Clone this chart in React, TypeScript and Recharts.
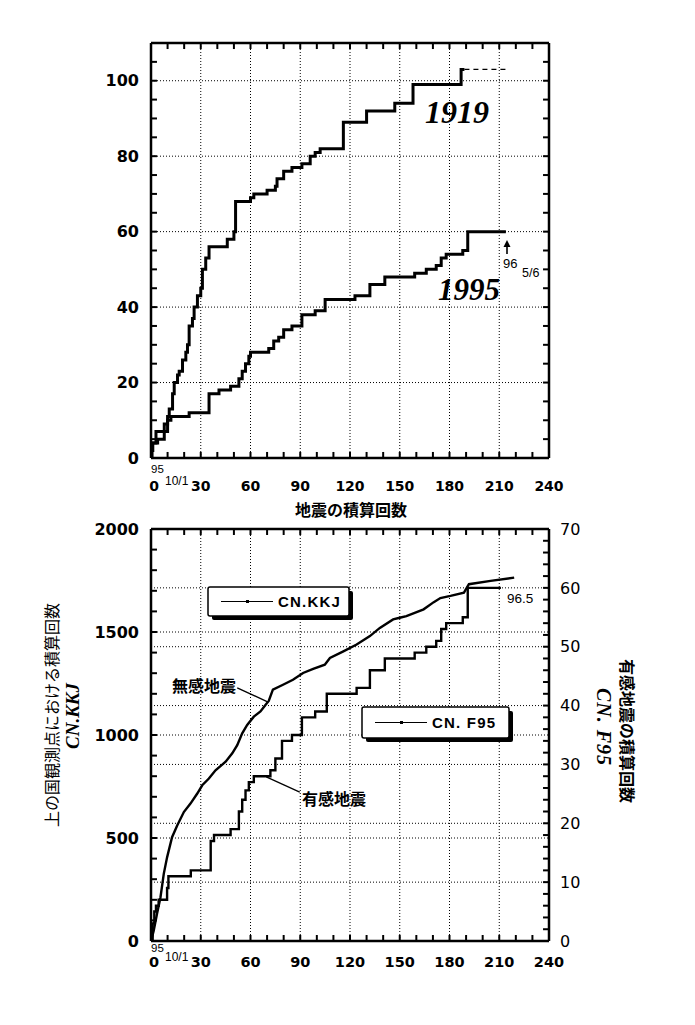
import React from 'react'
import { LineChart, Line, XAxis, YAxis, CartesianGrid, ReferenceLine } from 'recharts'

// axis ticks
const xTicks = [0, 30, 60, 90, 120, 150, 180, 210, 240]
const topYTicks = [0, 20, 40, 60, 80, 100]
const leftTicks = [0, 500, 1000, 1500, 2000]
const rightTicks = [0, 10, 20, 30, 40, 50, 60, 70]

// top chart: 1919 sequence (step)
const x1919 = [0, 0.5, 1, 3, 8, 10, 11, 13, 14, 16, 17, 19, 21, 22, 23, 25, 26, 28, 30, 31, 33, 35, 46, 50, 51, 60, 62, 70, 75, 76, 80, 85, 91, 96, 99, 102, 116, 130, 147, 158, 187, 189]
const y1919 = [0, 2, 4, 7, 9, 11, 13, 17, 20, 22, 23, 26, 28, 30, 35, 37, 40, 43, 45, 50, 53, 56, 58, 60, 68, 69, 70, 71, 72, 74, 76, 77, 78, 80, 81, 82, 89, 92, 94, 99, 103, 103]
const x1919Dashed = [189, 215]
const y1919Dashed = [103, 103]

// top chart: 1995 sequence (step)
const x1995 = [0, 0.5, 1, 4, 8, 10, 12, 23, 35, 41, 48, 53, 55, 57, 59, 60, 71, 74, 77, 80, 85, 91, 99, 105, 123, 132, 141, 159, 166, 172, 175, 178, 188, 191, 214]
const y1995 = [0, 2, 4, 5, 7, 10, 11, 12, 17, 18, 19, 21, 23, 25, 27, 28, 29, 31, 32, 34, 35, 38, 39, 42, 43, 46, 48, 49, 50, 51, 53, 54, 55, 60, 60]

// bottom chart: CN.KKJ (left axis)
const xKKJ = [0, 1.6, 3.6, 5.7, 7.7, 9.7, 12.7, 15.8, 19.8, 23.8, 27.9, 30.9, 34.9, 38.9, 45, 49, 52, 55, 58, 62, 66, 69, 71, 73.5, 79.6, 85.6, 91.7, 97.8, 104.8, 107.9, 116, 124, 132, 138, 146, 150, 154, 159, 164.4, 170.5, 174.5, 180.6, 188.7, 191.7, 204.8, 219]
const yKKJ = [0, 49, 131, 211, 326, 406, 504, 561, 626, 667, 716, 756, 789, 829, 870, 911, 951, 1008, 1049, 1089, 1114, 1146, 1165, 1220, 1244, 1268, 1301, 1321, 1341, 1374, 1406, 1439, 1480, 1520, 1561, 1569, 1577, 1593, 1610, 1645, 1665, 1675, 1691, 1732, 1748, 1764]

// bottom chart: CN.F95 (right axis, step)
const xF95 = [0, 1, 2, 3, 4.6, 9.7, 10.5, 24, 36, 38, 41, 48, 53, 55, 57, 59, 62, 72, 75, 79, 85, 91, 99, 106, 124, 132, 141, 159, 166, 172, 175, 178, 188, 191, 211]
const yF95 = [0, 3, 5, 6, 7, 9, 11, 12, 17, 18, 18, 19, 22, 24, 25.6, 27, 28, 29, 31, 34, 35, 38, 39, 42, 43, 46, 48, 49, 50, 51, 53, 54, 55, 60, 60]

const toPoints = (xs: number[], ys: number[]) => xs.map((x, i) => ({ x, y: ys[i] }))

const d1919 = toPoints(x1919, y1919)
const d1919Dashed = toPoints(x1919Dashed, y1919Dashed)
const d1995 = toPoints(x1995, y1995)
const dKKJ = toPoints(xKKJ, yKKJ)
const dF95 = toPoints(xF95, yF95)

// inner (minor) tick positions
const minorX = Array.from({ length: 23 }, (_, i) => (i + 1) * 10)
const minorTopY = Array.from({ length: 21 }, (_, i) => (i + 1) * 5)
const minorLeft = Array.from({ length: 19 }, (_, i) => (i + 1) * 100)
const minorRight = Array.from({ length: 34 }, (_, i) => (i + 1) * 2)

const NUM_FONT = '"DejaVu Sans", sans-serif'
const SANS = '"Liberation Sans", Arial, sans-serif'
const JP = '"Noto Sans CJK JP", sans-serif'
const SERIF = '"Liberation Serif", "Times New Roman", serif'

const TICK = 6

// mirrored axes: labels are drawn by hand outside the plot
const makeXTick = (gap: number, size: number, yearDy: number, dateDy: number) => (props: any) => {
	const { x, y, payload } = props
	if (!xTicks.includes(payload.value)) return <g />
	const top = y + TICK - 1 + gap
	const isZero = payload.value === 0
	return (
		<g>
			<text
				x={isZero ? x + 3 : x}
				y={top + size * 0.73}
				textAnchor="middle"
				fontFamily={NUM_FONT}
				fontWeight="bold"
				fontSize={size}
				fill="#000"
			>
				{payload.value}
			</text>
			{isZero && (
				<>
					<text x={x} y={top + yearDy} fontFamily={SANS} fontSize={11.5} fill="#000">
						95
					</text>
					<text x={x + 14} y={top + dateDy} fontFamily={SANS} fontSize={12} fill="#000">
						10/1
					</text>
				</>
			)}
		</g>
	)
}

const makeYTick = (major: number[], side: 'left' | 'right', bold: boolean) => (props: any) => {
	const { x, y, payload } = props
	if (!major.includes(payload.value)) return <g />
	return (
		<text
			x={side === 'left' ? x - TICK - 12 : x + TICK + 11}
			y={y}
			dy="0.36em"
			textAnchor={side === 'left' ? 'end' : 'start'}
			fontFamily={NUM_FONT}
			fontWeight={bold ? 'bold' : 'normal'}
			fontSize={16}
			fill="#000"
		>
			{payload.value}
		</text>
	)
}

const noLabel = () => <g />

// short inner tick marks along the frame, as data-space segments
const tickMarks = (prefix: string, yAxisId: string | number, segs: number[][]) =>
	segs.map(([x1, y1, x2, y2], i) => (
		<ReferenceLine
			key={prefix + i}
			yAxisId={yAxisId}
			segment={[
				{ x: x1, y: y1 },
				{ x: x2, y: y2 },
			]}
			stroke="#000"
			strokeWidth={2}
			ifOverflow="visible"
		/>
	))

const axisStroke = { stroke: '#000', strokeWidth: 2.5 }
const gridStyle = { stroke: '#000', strokeDasharray: '1 2', strokeWidth: 1 }

function TopChart() {
	return (
		<LineChart width={695} height={525} margin={{ top: 43, right: 146, bottom: 67, left: 151 }}>
			<CartesianGrid {...gridStyle} horizontalValues={topYTicks} verticalValues={xTicks} />
			<XAxis dataKey="x" type="number" domain={[0, 240]} ticks={[0, ...minorX, 240]} allowDataOverflow height={1} mirror tickSize={TICK} tickMargin={0} axisLine={axisStroke} tickLine={false} tick={makeXTick(24, 14, -8, 4)} interval={0} />
			<XAxis xAxisId="top" dataKey="x" orientation="top" type="number" domain={[0, 240]} ticks={xTicks} allowDataOverflow height={1} mirror tickSize={TICK} tickMargin={0} tick={noLabel} axisLine={axisStroke} tickLine={false} interval={0} />
			<YAxis type="number" domain={[0, 110]} ticks={topYTicks} allowDataOverflow width={1} mirror tickSize={TICK} tickMargin={0} axisLine={axisStroke} tickLine={false} tick={makeYTick(topYTicks, 'left', true)} interval={0} />
			<YAxis yAxisId="right" orientation="right" type="number" domain={[0, 110]} ticks={topYTicks} allowDataOverflow width={1} mirror tickSize={TICK} tickMargin={0} tick={noLabel} axisLine={axisStroke} tickLine={false} interval={0} />
			{tickMarks('tb', 0, minorX.map((v) => [v, 0, v, 1.6]))}
			{tickMarks('tt', 0, minorX.map((v) => [v, 110, v, 108.4]))}
			{tickMarks('tl', 0, minorTopY.map((v) => [0, v, 3.6, v]))}
			{tickMarks('tr', 0, minorTopY.map((v) => [240, v, 236.4, v]))}
			<Line data={d1919} dataKey="y" type="stepAfter" stroke="#000" strokeWidth={3} dot={false} isAnimationActive={false} />
			<Line xAxisId="top" yAxisId="right" data={d1919Dashed} dataKey="y" type="linear" stroke="#000" strokeWidth={1.2} strokeDasharray="5 4" dot={false} isAnimationActive={false} />
			<Line data={d1995} dataKey="y" type="stepAfter" stroke="#000" strokeWidth={3} dot={false} isAnimationActive={false} />
		</LineChart>
	)
}

function BottomChart() {
	return (
		<LineChart width={695} height={520} margin={{ top: 24, right: 146, bottom: 84, left: 151 }}>
			<CartesianGrid yAxisId="left" {...gridStyle} horizontalValues={leftTicks} verticalValues={xTicks} />
			<CartesianGrid yAxisId="right" {...gridStyle} vertical={false} horizontalValues={rightTicks} />
			<XAxis dataKey="x" type="number" domain={[0, 240]} ticks={xTicks} allowDataOverflow height={1} mirror tickSize={TICK} tickMargin={0} axisLine={axisStroke} tickLine={false} tick={makeXTick(16, 14.5, -4, 5)} interval={0} />
			<XAxis xAxisId="top" dataKey="x" orientation="top" type="number" domain={[0, 240]} ticks={xTicks} allowDataOverflow height={1} mirror tickSize={TICK} tickMargin={0} tick={noLabel} axisLine={axisStroke} tickLine={false} interval={0} />
			<YAxis yAxisId="left" type="number" domain={[0, 2000]} ticks={leftTicks} allowDataOverflow width={1} mirror tickSize={TICK} tickMargin={0} axisLine={axisStroke} tickLine={false} tick={makeYTick(leftTicks, 'left', true)} interval={0} />
			<YAxis yAxisId="right" orientation="right" type="number" domain={[0, 70]} ticks={rightTicks} allowDataOverflow width={1} mirror tickSize={TICK} tickMargin={0} axisLine={axisStroke} tickLine={false} tick={makeYTick(rightTicks, 'right', false)} interval={0} />
			{tickMarks('bb', 'left', minorX.map((v) => [v, 0, v, 29]))}
			{tickMarks('bt', 'left', minorX.map((v) => [v, 2000, v, 1971]))}
			{tickMarks('bl', 'left', minorLeft.map((v) => [0, v, 3.6, v]))}
			{tickMarks('br', 'right', minorRight.map((v) => [240, v, 236.4, v]))}
			<ReferenceLine yAxisId="left" segment={[{ x: 52, y: 1229 }, { x: 70.3, y: 1161 }]} stroke="#000" strokeWidth={1.3} />
			<ReferenceLine yAxisId="right" segment={[{ x: 69.5, y: 27.9 }, { x: 89.7, y: 25.3 }]} stroke="#000" strokeWidth={1.3} />
			<Line yAxisId="left" data={dKKJ} dataKey="y" type="linear" stroke="#000" strokeWidth={2.4} dot={false} isAnimationActive={false} />
			<Line xAxisId="top" yAxisId="right" data={dF95} dataKey="y" type="stepAfter" stroke="#000" strokeWidth={2.4} dot={false} isAnimationActive={false} />
		</LineChart>
	)
}

function LegendBox({ x, y, w, h, label, textX }: { x: number; y: number; w: number; h: number; label: string; textX: number }) {
	const midY = y + h / 2
	return (
		<g>
			<rect x={x + 4} y={y + 4} width={w} height={h} rx={2} fill="#000" />
			<rect x={x} y={y} width={w} height={h} rx={2} fill="#fff" stroke="#000" strokeWidth={1.5} />
			<line x1={x + 13} x2={x + 65} y1={midY} y2={midY} stroke="#000" strokeWidth={1.2} />
			<rect x={x + 38} y={midY - 1.5} width={3} height={3} fill="#000" />
			<text x={textX} y={midY + 5.5} fontFamily={SANS} fontWeight="bold" fontSize={15} letterSpacing={1.2} fill="#000">
				{label}
			</text>
		</g>
	)
}

function Overlay() {
	return (
		<svg width={695} height={1025} style={{ position: 'absolute', left: 0, top: 0, pointerEvents: 'none' }}>
			{/* top chart */}
			<text x={425} y={123} fontFamily={SERIF} fontWeight="bold" fontStyle="italic" fontSize={32} fill="#000">
				1919
			</text>
			<text x={438} y={300} fontFamily={SERIF} fontWeight="bold" fontStyle="italic" fontSize={31} fill="#000">
				1995
			</text>
			<line x1={507} x2={507} y1={254} y2={243} stroke="#000" strokeWidth={1.6} />
			<polygon points="503.5,247 507,240 510.5,247" fill="#000" />
			<text x={503} y={268} fontFamily={SANS} fontSize={13} fill="#000">
				96
			</text>
			<text x={522} y={277} fontFamily={SANS} fontSize={12.5} fill="#000">
				5/6
			</text>
			<text x={351} y={516} textAnchor="middle" fontFamily={JP} fontWeight="bold" fontSize={16} fill="#000">
				地震の積算回数
			</text>

			{/* bottom chart */}
			<LegendBox x={208} y={587} w={141} h={29} label="CN.KKJ" textX={278} />
			<LegendBox x={362} y={707} w={147} h={31} label="CN.  F95" textX={432} />
			<text x={507} y={603} fontFamily={SANS} fontSize={13.5} fill="#000">
				96.5
			</text>
			<text x={172} y={692} fontFamily={JP} fontWeight="bold" fontSize={16} fill="#000">
				無感地震
			</text>
			<text x={302} y={805} fontFamily={JP} fontWeight="bold" fontSize={16} fill="#000">
				有感地震
			</text>
			<text transform="translate(51,715) rotate(-90)" textAnchor="middle" dominantBaseline="central" fontFamily={JP} fontSize={16} fill="#000">
				上の国観測点における積算回数
			</text>
			<text transform="translate(72,716) rotate(-90)" textAnchor="middle" dominantBaseline="central" fontFamily={SERIF} fontWeight="bold" fontStyle="italic" fontSize={19} fill="#000">
				CN.KKJ
			</text>
			<text transform="translate(628,731) rotate(90)" textAnchor="middle" dominantBaseline="central" fontFamily={JP} fontWeight="bold" fontSize={16} fill="#000">
				有感地震の積算回数
			</text>
			<text transform="translate(604,727) rotate(90)" textAnchor="middle" dominantBaseline="central" fontFamily={SERIF} fontWeight="bold" fontStyle="italic" fontSize={20} letterSpacing={1} fill="#000">
				CN. F95
			</text>
		</svg>
	)
}

export default function App() {
	return (
		<div style={{ position: 'absolute', left: 0, top: 0, width: 695, height: 1025, background: '#fff' }}>
			<div style={{ position: 'absolute', left: 0, top: 0 }}>
				<TopChart />
			</div>
			<div style={{ position: 'absolute', left: 0, top: 505 }}>
				<BottomChart />
			</div>
			<Overlay />
		</div>
	)
}
